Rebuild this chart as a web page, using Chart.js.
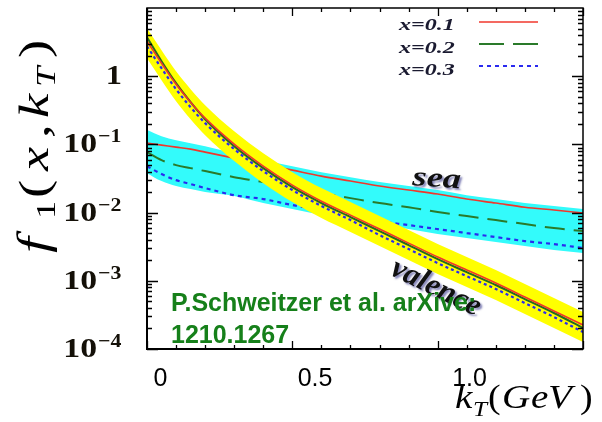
<!DOCTYPE html>
<html><head><meta charset="utf-8">
<script src="https://cdn.jsdelivr.net/npm/chart.js@4/dist/chart.umd.min.js"></script>
<style>html,body{margin:0;padding:0;background:#fff;}#wrap{width:602px;height:422px;}</style>
</head><body><div id="wrap"><canvas id="c" width="602" height="422"></canvas></div>
<script>
// kT grid (GeV)
const kT = [0,0.05,0.1,0.15,0.2,0.3,0.4,0.5,0.6,0.7,0.8,0.9,1.0,1.1,1.2,1.3,1.4,1.5];
// valence curves
const valX01 = [3.26,1.55,0.763,0.416,0.2425,0.1009,0.0480,0.0253,0.0147,0.00919,0.00573,0.00357,0.00223,0.00144,0.000927,0.000578,0.000360,0.000225];
const valX02 = [3.73,1.66,0.790,0.416,0.234,0.0942,0.0449,0.0236,0.0138,0.00859,0.00536,0.00334,0.00208,0.00134,0.000867,0.000540,0.000337,0.000203];
const valX03 = [2.75,1.31,0.645,0.351,0.205,0.0852,0.0406,0.0214,0.0125,0.00777,0.00468,0.00292,0.00182,0.00117,0.000757,0.000472,0.000294,0.000177];
const valBandHi = [5.05,2.40,1.18,0.645,0.376,0.156,0.0744,0.0392,0.0229,0.0143,0.00889,0.00554,0.00345,0.00223,0.00144,0.000896,0.000559,0.000348];
const valBandLo = [1.835,0.874,0.430,0.234,0.1367,0.0569,0.0270,0.0143,0.00830,0.00518,0.00323,0.00201,0.00126,0.000810,0.000522,0.000326,0.000203,0.000127];
// sea curves
const seaX01 = [0.1043,0.0975,0.0912,0.0852,0.0770,0.0629,0.0514,0.0420,0.0343,0.0290,0.0245,0.0214,0.0187,0.0158,0.0138,0.0120,0.0109,0.00984];
const seaX02 = [0.0770,0.0588,0.0497,0.0449,0.0406,0.0331,0.0280,0.0229,0.0193,0.0163,0.0138,0.0120,0.0102,0.00889,0.00777,0.00679,0.00593,0.00536];
const seaX03 = [0.0480,0.0367,0.0299,0.0262,0.0229,0.0180,0.0158,0.0129,0.0109,0.00919,0.00750,0.00656,0.00573,0.00501,0.00438,0.00382,0.00345,0.00302];
const seaBandHi = [0.162,0.132,0.115,0.104,0.0942,0.0744,0.0588,0.0480,0.0392,0.0331,0.0280,0.0245,0.0214,0.0180,0.0158,0.0138,0.0125,0.0113];
const seaBandLo = [0.0379,0.0290,0.0245,0.0221,0.0200,0.0175,0.0138,0.0113,0.00919,0.00777,0.00656,0.00573,0.00484,0.00423,0.00370,0.00323,0.00282,0.00255];
// ticks & labels
const yTickExps = [0,-1,-2,-3,-4];
const xTickVals = [0,0.5,1.0];
const xTickLabels = ['0','0.5','1.0'];
const legendLabels = ['x=0.1','x=0.2','x=0.3'];
const creditLines = ['P.Schweitzer et al. arXive:','1210.1267'];

const RED='#f0372c', GREEN='#2a7a2a', VGREEN='#25691f', BLUE='#2a2aef';
const pts = arr => kT.map((k,i)=>({x:k,y:arr[i]}));
const base = {pointRadius:0, cubicInterpolationMode:'monotone', xAxisID:'x', yAxisID:'y'};

const datasets = [
  {...base, label:'val x=0.3', data:pts(valX03), borderColor:BLUE, borderWidth:2.2, borderDash:[3,3], fill:false, order:1},
  {...base, label:'val x=0.1', data:pts(valX01), borderColor:RED, borderWidth:1.6, fill:false, order:2},
  {...base, label:'val x=0.2', data:pts(valX02), borderColor:VGREEN, borderWidth:2, fill:false, order:3},
  {...base, label:'val band hi', data:pts(valBandHi), borderWidth:0, borderColor:'rgba(0,0,0,0)', backgroundColor:'#ffff00', fill:'+1', order:5},
  {...base, label:'val band lo', data:pts(valBandLo), borderWidth:0, borderColor:'rgba(0,0,0,0)', fill:false, order:5},
  {...base, label:'sea x=0.1', data:pts(seaX01), borderColor:RED, borderWidth:1.6, fill:false, order:6},
  {...base, label:'sea x=0.2', data:pts(seaX02), borderColor:GREEN, borderWidth:2, borderDash:[20,9], fill:false, order:7},
  {...base, label:'sea x=0.3', data:pts(seaX03), borderColor:BLUE, borderWidth:2.2, borderDash:[4,4], fill:false, order:8},
  {...base, label:'sea band hi', data:pts(seaBandHi), borderWidth:0, borderColor:'rgba(0,0,0,0)', backgroundColor:'#33fbfb', fill:'+1', order:10},
  {...base, label:'sea band lo', data:pts(seaBandLo), borderWidth:0, borderColor:'rgba(0,0,0,0)', fill:false, order:10}
];

function stretchText(ctx, txt, x, y, sx, align){
  ctx.save();
  const w = ctx.measureText(txt).width*sx;
  let x0 = x;
  if(align==='right') x0 = x - w; else if(align==='center') x0 = x - w/2;
  ctx.translate(x0, y); ctx.scale(sx,1); ctx.textAlign='left';
  ctx.fillText(txt, 0, 0);
  ctx.restore();
}

const deco = {
  id:'deco',
  afterDatasetsDraw(chart){
    const ctx = chart.ctx;
    // "sea"
    ctx.save();
    ctx.fillStyle='#111';
    ctx.shadowColor='rgba(20,20,120,0.5)'; ctx.shadowOffsetX=2; ctx.shadowOffsetY=2; ctx.shadowBlur=2;
    ctx.font='bold italic 28px "Liberation Serif", serif';
    ctx.translate(412,185); ctx.rotate(4*Math.PI/180); ctx.scale(1.3,1);
    ctx.fillText('sea',0,0);
    ctx.restore();
    // "valence"
    ctx.save();
    ctx.fillStyle='#111';
    ctx.shadowColor='rgba(20,20,120,0.5)'; ctx.shadowOffsetX=2; ctx.shadowOffsetY=2; ctx.shadowBlur=2;
    ctx.font='bold italic 31px "Liberation Serif", serif';
    ctx.translate(389,274); ctx.rotate(26*Math.PI/180);
    ctx.fillText('valence',0,0);
    ctx.restore();
    // credit text
    ctx.save();
    ctx.fillStyle='#16801a';
    ctx.font='bold 25px "Liberation Sans", Arial, sans-serif';
    ctx.textAlign='left'; ctx.textBaseline='alphabetic';
    ctx.fillText(creditLines[0],171,311);
    ctx.fillText(creditLines[1],171,343);
    ctx.restore();
  },
  afterDraw(chart){
    const ctx = chart.ctx, a = chart.chartArea;
    const xs = chart.scales.x, ys = chart.scales.y, x2 = chart.scales.x2;
    ctx.save();
    ctx.strokeStyle='#000'; ctx.lineWidth=1.3;
    ctx.beginPath();
    for(let e=-4;e<=0;e++){
      for(let k=1;k<=9;k++){
        const v = k*Math.pow(10,e);
        const py = Math.round(ys.getPixelForValue(v))+0.5;
        const L = k===1?11:5;
        ctx.moveTo(a.left,py); ctx.lineTo(a.left+L,py);
        ctx.moveTo(a.right,py); ctx.lineTo(a.right-L,py);
      }
    }
    for(let i=0;i<=15;i++){
      const px = Math.round(xs.getPixelForValue(i/10))+0.5;
      const L = i%5===0?8:4;
      ctx.moveTo(px,a.bottom); ctx.lineTo(px,a.bottom-L);
      ctx.moveTo(px,a.top); ctx.lineTo(px,a.top+L);
    }
    ctx.stroke();
    ctx.lineWidth=1.5;
    ctx.strokeRect(a.left,a.top,a.right-a.left,a.bottom-a.top);
    ctx.lineWidth=2;
    ctx.beginPath(); ctx.moveTo(a.left,a.top); ctx.lineTo(a.left,a.bottom); ctx.lineTo(a.right,a.bottom); ctx.stroke();
    ctx.restore();

    // y tick labels
    ctx.save();
    ctx.fillStyle='#141008';
    ctx.textBaseline='alphabetic';
    yTickExps.forEach(e=>{
      const py = ys.getPixelForValue(Math.pow(10,e));
      if(e===0){
        ctx.font='bold 27px "Liberation Serif", serif';
        stretchText(ctx,'1',122,py+8,1.2,'right');
      } else {
        ctx.font='bold 27px "Liberation Serif", serif';
        stretchText(ctx,'10',97,py+8,1.25,'right');
        ctx.font='bold 19px "Liberation Serif", serif';
        stretchText(ctx,String(e).replace('-','\u2212'),98,py-2,1.15,'left');
      }
    });
    ctx.restore();

    // x tick labels
    ctx.save();
    ctx.fillStyle='#000';
    ctx.font='25px "Liberation Sans", Arial, sans-serif';
    ctx.textAlign='center'; ctx.textBaseline='alphabetic';
    xTickVals.forEach((v,i)=>{
      ctx.fillText(xTickLabels[i], x2.getPixelForValue(v), 386);
    });
    ctx.restore();

    // x axis title  k_T(GeV)
    ctx.save();
    ctx.fillStyle='#000'; ctx.textBaseline='alphabetic'; ctx.textAlign='left';
    const xt = (t,f,x,y)=>{ctx.font=f; stretchText(ctx,t,x,y,1.15,'left');};
    xt('k','italic 34px "Liberation Serif", serif',455,408);
    xt('T','italic 22px "Liberation Serif", serif',473,416);
    xt('(','33px "Liberation Serif", serif',488,408);
    xt('G','italic 34px "Liberation Serif", serif',502,408);
    xt('e','italic 34px "Liberation Serif", serif',531,408);
    xt('V','italic 34px "Liberation Serif", serif',548,408);
    xt(')','33px "Liberation Serif", serif',580,408);
    ctx.restore();

    // y axis title f_1(x, k_T)
    ctx.save();
    ctx.fillStyle='#000'; ctx.textBaseline='alphabetic'; ctx.textAlign='left';
    ctx.translate(48,257); ctx.rotate(-Math.PI/2);
    const S=1.3; ctx.scale(S,1);
    const yt = (t,f,p,dy)=>{ctx.font=f; ctx.fillText(t,p/S,dy);};
    yt('f','italic 44px "Liberation Serif", serif',4,0);
    yt('1','28px "Liberation Serif", serif',38,7);
    yt('(','42px "Liberation Serif", serif',59,0);
    yt('x','italic 42px "Liberation Serif", serif',86,0);
    yt(',','42px "Liberation Serif", serif',119,0);
    yt('k','italic 42px "Liberation Serif", serif',139,0);
    yt('T','italic 28px "Liberation Serif", serif',170,7);
    yt(')','42px "Liberation Serif", serif',199,0);
    ctx.restore();

    // legend
    ctx.save();
    const ly=[22,44,66], tb=[30,53,75];
    const styles=[{c:RED,d:[],w:1.6},{c:GREEN,d:[25,9],w:2},{c:BLUE,d:[4,4],w:2}];
    legendLabels.forEach((t,i)=>{
      ctx.fillStyle='#1a1a30';
      ctx.font='bold italic 16px "Liberation Serif", serif';
      stretchText(ctx,t,399,tb[i],1.5,'left');
      ctx.strokeStyle=styles[i].c; ctx.lineWidth=styles[i].w; ctx.setLineDash(styles[i].d);
      ctx.beginPath(); ctx.moveTo(479,ly[i]); ctx.lineTo(538,ly[i]); ctx.stroke();
    });
    ctx.setLineDash([]);
    ctx.restore();
  }
};

new Chart(document.getElementById('c'), {
  type:'line',
  data:{datasets},
  options:{
    responsive:false, animation:false, devicePixelRatio:1,
    layout:{padding:{left:147,right:19,top:8,bottom:73}},
    plugins:{legend:{display:false}, tooltip:{enabled:false}},
    scales:{
      x:{type:'linear', min:0, max:1.5, display:false},
      x2:{type:'linear', min:-0.0437, max:1.367, display:false, position:'bottom'},
      y:{type:'logarithmic', min:1e-4, max:10, display:false}
    }
  },
  plugins:[deco]
});
</script>
</body></html>
